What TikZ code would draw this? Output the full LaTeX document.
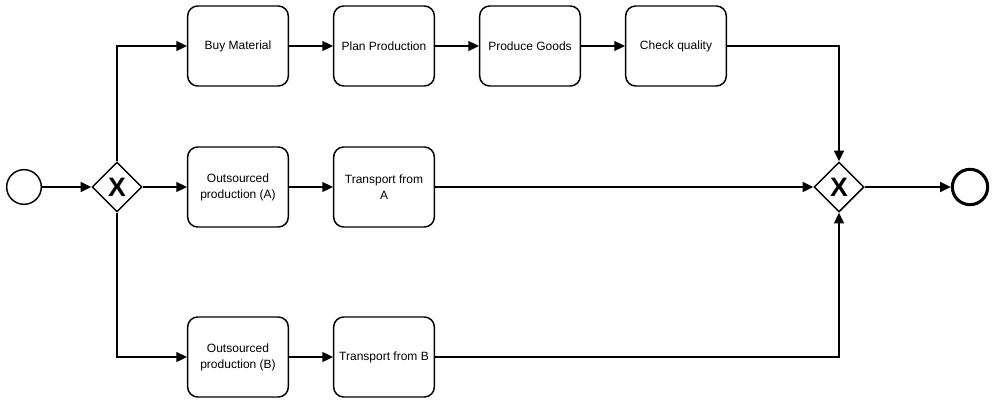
\documentclass[tikz,border=0pt]{standalone}
\usepackage{fontspec}
\setmainfont{Liberation Sans}
\usepackage{tikz}
\usetikzlibrary{
  arrows.meta,
  positioning,
  shapes.geometric,
}

\begin{document}
\begin{tikzpicture}[
    x=0.75pt, y=-0.75pt,
    task/.style={rectangle, rounded corners=7.5pt, draw, line width=1.1pt,
                 minimum width=75.5pt, minimum height=60pt, align=center,
                 inner sep=1pt, font=\fontsize{9}{12}\selectfont},
    gateway/.style={diamond, draw, line width=1.1pt, inner sep=0pt,
                    minimum width=37.5pt, minimum height=37.5pt,
                    font=\fontsize{20}{20}\selectfont\bfseries},
    startev/.style={circle, draw, line width=1.1pt, minimum size=26pt, inner sep=0pt},
    endev/.style={circle, draw, line width=2.3pt, minimum size=26.5pt, inner sep=0pt},
    ->, >={Triangle[length=8pt, width=7.5pt]}, line width=1.1pt,
  ]
  \useasboundingbox (0,0) rectangle (994,403);

  \node[startev] (start) at (24,187) {};
  \node[gateway] (split) at (117,187) {X};
  \node[gateway] (join)  at (839,187) {X};
  \node[endev]   (stop)  at (970,187) {};

  \node[task] (buy)     at (238,46)  {Buy Material};
  \node[task] (plan)    at (384,46)  {Plan Production};
  \node[task] (produce) at (530,46)  {Produce Goods};
  \node[task] (check)   at (676,46)  {Check quality};

  \node[task] (outA)    at (238,187) {Outsourced\\production (A)};
  \node[task] (transA)  at (384,187) {Transport from\\A};

  \node[task] (outB)    at (238,357) {Outsourced\\production (B)};
  \node[task] (transB)  at (384,357) {Transport from B};

  \draw (start) -- (split);
  \draw (split.north) |- (buy.west);
  \draw (split) -- (outA);
  \draw (split.south) |- (outB.west);

  \draw (buy) -- (plan);
  \draw (plan) -- (produce);
  \draw (produce) -- (check);
  \draw (outA) -- (transA);
  \draw (outB) -- (transB);

  \draw (check.east) -| (join.north);
  \draw (transA) -- (join);
  \draw (transB.east) -| (join.south);
  \draw (join) -- (stop);
\end{tikzpicture}
\end{document}
